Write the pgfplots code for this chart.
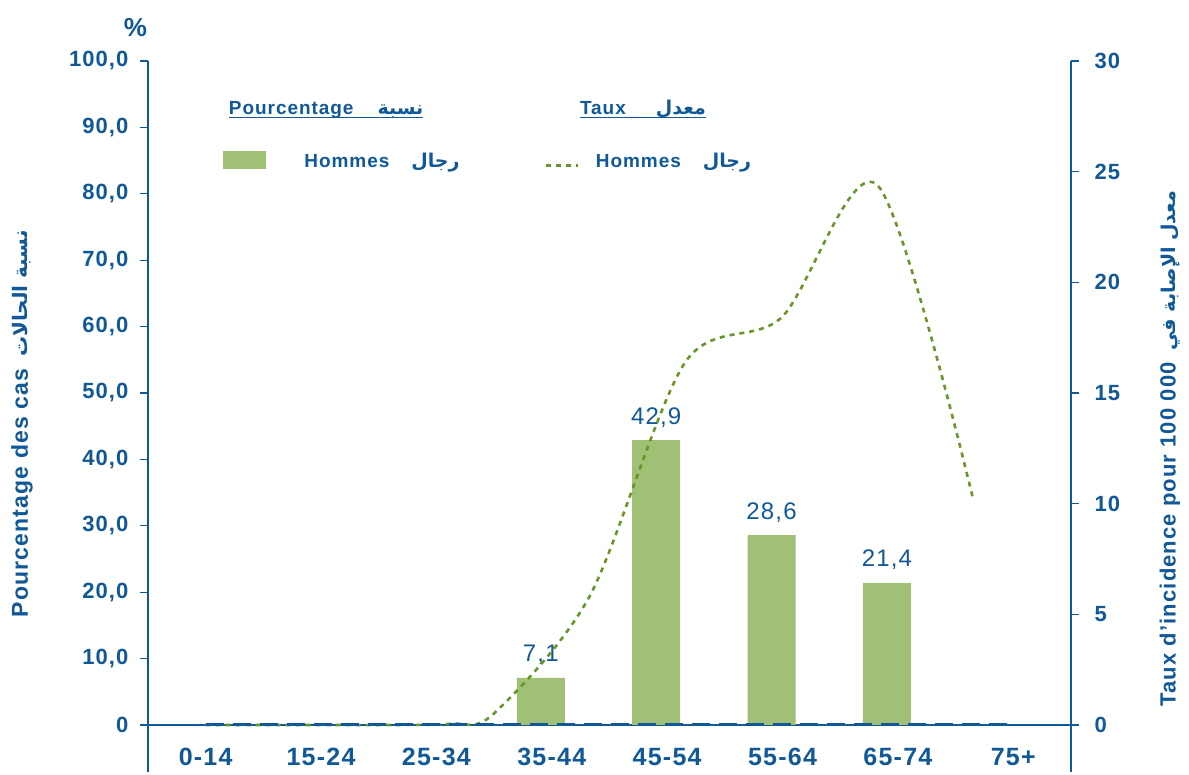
\documentclass[border=0pt]{standalone}
\usepackage{fontspec}
\setmainfont[LetterSpace=5]{Liberation Sans}
\newfontfamily\arabicfont[Script=Arabic]{DejaVu Sans}
\usepackage{pgfplots}
\pgfplotsset{compat=1.18}
\TeXXeTstate=1
\definecolor{mblue}{RGB}{16,88,150}
\definecolor{barg}{RGB}{160,192,118}
\definecolor{lineg}{RGB}{104,150,40}
\newcommand\tickf{\fontsize{22}{26}\selectfont\bfseries}
\newcommand\xtickf{\fontsize{25}{30}\selectfont\bfseries}
\newcommand\labf{\fontsize{23}{28}\selectfont\bfseries}
\newcommand\legf{\fontsize{19}{23}\selectfont\bfseries}
\begin{document}
\begin{tikzpicture}
\begin{axis}[
  name=ax,
  scale only axis, width=923pt, height=711pt,
  xmin=-0.5, xmax=7.5, ymin=-7.08, ymax=100,
  clip=false,
  axis y line*=left, axis x line*=bottom,
  x axis line style={draw=none},
  y axis line style={mblue, line width=1.2pt},
  xtick={0,...,7},
  xticklabels={0-14,15-24,25-34,35-44,45-54,55-64,65-74,75+},
  xtick style={draw=none},
  xticklabel style={anchor=base, yshift=15pt, font=\xtickf, text=mblue},
  ytick={0,10,...,100},
  yticklabels={0,{10,0},{20,0},{30,0},{40,0},{50,0},{60,0},{70,0},{80,0},{90,0},{100,0}},
  ytick style={mblue, line width=1.2pt},
  major tick length=8pt, tick align=outside,
  yticklabel style={font=\tickf, text=mblue, xshift=-8pt},
  ylabel={Pourcentage des cas\hspace{12pt}{\arabicfont\fontsize{20}{24}\selectfont\beginR نسبة الحالات\endR}},
  ylabel style={at={(axis description cs:-0.1365,0.49)}, anchor=center, font=\labf, text=mblue},
  legend columns=2,
  legend cell align=left,
  legend style={at={(axis cs:0.148,85.1)}, anchor=west, draw=none, fill=none,
    inner sep=0pt, /tikz/column sep=0pt, nodes={inner sep=0pt, font=\legf, text=mblue}},
]
\addlegendimage{legend image code/.code={\fill[barg] (0pt,-7.5pt) rectangle (42pt,9pt); \path (81pt,0pt);}}
\addlegendentry{\makebox[240pt][l]{Hommes\hspace{22pt}{\arabicfont\beginR رجال\endR}}}
\addlegendimage{legend image code/.code={\draw[lineg, line width=2.6pt, dash pattern=on 5pt off 5pt] (0pt,-5pt) -- (32pt,-5pt); \path (50pt,0pt);}}
\addlegendentry{Hommes\hspace{22pt}{\arabicfont\beginR رجال\endR}}
\draw[mblue, line width=1.2pt] (axis cs:-0.5,0) -- (axis cs:7.5,0);
\addplot[ybar, bar width=48pt, bar shift=-11pt, fill=barg, draw=none,
  nodes near coords,
  every node near coord/.append style={anchor=base, xshift=-11pt, yshift=16pt, font=\fontsize{24}{28}\selectfont, text=mblue,
    /pgf/number format/.cd, fixed, fixed zerofill, precision=1, use comma, assume math mode=true},
  forget plot]
  coordinates {(3,7.1) (4,42.9) (5,28.6) (6,21.4)};
\node[font=\fontsize{26}{30}\selectfont\bfseries, text=mblue] at (axis cs:-0.609,105.1) {\%};
\node[anchor=base west, inner sep=0pt, font=\legf, text=mblue] (h1) at (axis cs:0.2,91.87) {Pourcentage\hspace{24pt}{\arabicfont\beginR نسبة\endR}};
\draw[mblue, line width=1pt] ([yshift=-3pt]h1.base west) -- ([yshift=-3pt]h1.base east);
\node[anchor=base west, inner sep=0pt, font=\legf, text=mblue] (h2) at (axis cs:3.243,91.87) {Taux\hspace{30pt}{\arabicfont\beginR معدل\endR}};
\draw[mblue, line width=1pt] ([yshift=-3pt]h2.base west) -- ([yshift=-3pt]h2.base east);
\end{axis}
\begin{axis}[
  scale only axis, width=923pt, height=711pt,
  xmin=-0.5, xmax=7.5, ymin=-2.124, ymax=30,
  clip=false,
  axis y line*=right, axis x line=none,
  y axis line style={mblue, line width=1.2pt},
  ytick={0,5,...,30},
  yticklabels={0,5,10,15,20,25,30},
  ytick style={mblue, line width=1.2pt},
  major tick length=8pt, tick align=outside,
  yticklabel style={font=\tickf, text=mblue, xshift=12pt},
  ylabel={Taux d'incidence pour 100 000\hspace{12pt}{\arabicfont\fontsize{19}{23}\selectfont\beginR معدل الإصابة في\endR}},
  ylabel style={at={(axis description cs:1.1073,0.455)}, anchor=center, font=\fontsize{22}{27}\selectfont\bfseries, text=mblue},
]
\addplot[smooth, tension=0.5, lineg, line width=2.6pt, dash pattern=on 5pt off 5pt]
  coordinates {(0,0) (0.8315,0) (1.663,0) (2.13,0.06) (2.4945,0.5) (3.326,5.8) (4.1575,16.4) (4.989,18.4) (5.8205,24.4) (6.652,10.2)};
\addplot[mblue, line width=3pt, dash pattern=on 18pt off 9pt]
  coordinates {(0,0) (1,0) (2,0) (3,0) (4,0) (5,0) (6,0) (7,0)};
\end{axis}
\pgfresetboundingbox
\path[use as bounding box] ([xshift=-148pt,yshift=-2pt]ax.south west) rectangle ([xshift=1041pt,yshift=772pt]ax.south west);
\end{tikzpicture}
\end{document}
